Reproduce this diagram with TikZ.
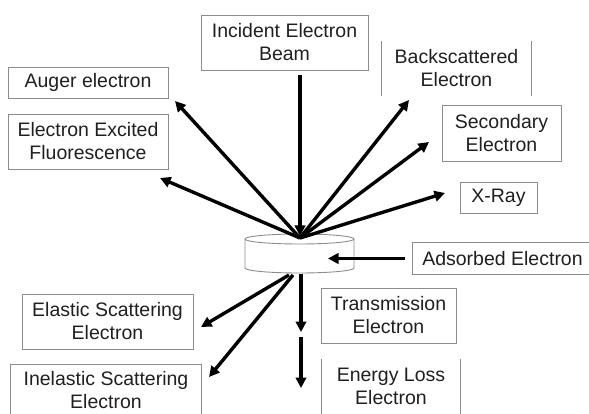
\documentclass[tikz,border=0pt]{standalone}
\usepackage{fontspec}
\setmainfont{Liberation Sans}
\usetikzlibrary{arrows.meta}
\definecolor{txtc}{gray}{0.12}
\definecolor{boxc}{gray}{0.55}
\tikzset{
  lbl/.style={font=\fontsize{19.5}{23}\selectfont, text=txtc, align=center, inner sep=0pt},
  boxed/.style={lbl, draw=boxc, line width=0.9pt},
  edge/.style={draw=boxc, line width=0.9pt},
  arr/.style={line width=3.4pt, -{Triangle[length=10.5pt,width=10.5pt]}},
}
\begin{document}
\begin{tikzpicture}[x=1pt,y=-1pt]
\useasboundingbox (0,0) rectangle (589,414);
% boxes
\node[boxed, minimum width=167pt, minimum height=55pt] (inc) at (284.5,42.5) {Incident Electron\\Beam};
\node[boxed, minimum width=160pt, minimum height=31pt] (aug) at (88,82.5) {Auger electron};
\node[boxed, minimum width=160pt, minimum height=55pt] (flu) at (88,141.5) {Electron Excited\\Fluorescence};
\node[lbl, minimum width=149pt, minimum height=55pt] (back) at (456.5,68.5) {Backscattered\\Electron};
\draw[edge] (back.north west) -- (back.south west);
\draw[edge] (back.north east) -- (back.south east);
\node[boxed, minimum width=119pt, minimum height=56pt] (sec) at (501.5,133) {Secondary\\Electron};
\node[boxed, minimum width=77pt, minimum height=31pt] (xr) at (498.5,197.5) {X-Ray};
\node[lbl, minimum width=179pt, minimum height=31pt] (ads) at (502.5,258.5) {Adsorbed Electron};
\coordinate (rim) at (589,0);
\draw[edge] (ads.north west -| rim) -- (ads.north west) -- (ads.south west) -- (ads.south west -| rim);
\node[boxed, minimum width=135pt, minimum height=55pt] (tra) at (388.5,315.5) {Transmission\\Electron};
\node[lbl, minimum width=138pt, minimum height=55pt] (eel) at (391,386.5) {Energy Loss\\Electron};
\coordinate (bot) at (0,414);
\draw[edge] (eel.north west) -- (eel.north west |- bot);
\draw[edge] (eel.north east) -- (eel.north east |- bot);
\node[boxed, minimum width=171pt, minimum height=55pt] (ela) at (107.5,321.5) {Elastic Scattering\\Electron};
\node[lbl, minimum width=190pt, minimum height=50pt] (ine) at (106,390) {Inelastic Scattering\\Electron};
\draw[edge] (ine.north west |- bot) -- (ine.north west) -- (ine.north east) -- (ine.north east |- bot);
% sample cylinder
\draw[edge, fill=white] (245,239) -- (245,268) arc[start angle=180, end angle=360, x radius=54.5, y radius=-5] -- (354,239);
\draw[edge, fill=white] (299.5,239) ellipse [x radius=54.5, y radius=5];
% arrow points
\coordinate (apex) at (300,238);
\coordinate (tAug) at (175,101);
\coordinate (tFlu) at (160,178);
\coordinate (tBack) at (409,100);
\coordinate (tSec) at (429,142);
\coordinate (tX) at (445,193);
\coordinate (tAds) at (328,258.5);
\coordinate (sTra) at (301,274);
\coordinate (tTra) at (301,332);
\coordinate (sEel) at (301,337);
\coordinate (tEel) at (301,388);
\coordinate (sEla) at (289,275);
\coordinate (tEla) at (201,327);
\coordinate (sIne) at (293,275);
\coordinate (tIne) at (209,377);
% arrows
\draw[arr, shorten <=5pt, shorten >=2pt] (inc.south -| apex) -- (apex);
\draw[arr] (apex) -- (tAug);
\draw[arr] (apex) -- (tFlu);
\draw[arr] (apex) -- (tBack);
\draw[arr] (apex) -- (tSec);
\draw[arr] (apex) -- (tX);
\draw[arr, shorten <=8pt] (ads.west) -- (tAds);
\draw[arr] (sTra) -- (tTra);
\draw[arr] (sEel) -- (tEel);
\draw[arr] (sEla) -- (tEla);
\draw[arr] (sIne) -- (tIne);
\end{tikzpicture}
\end{document}
